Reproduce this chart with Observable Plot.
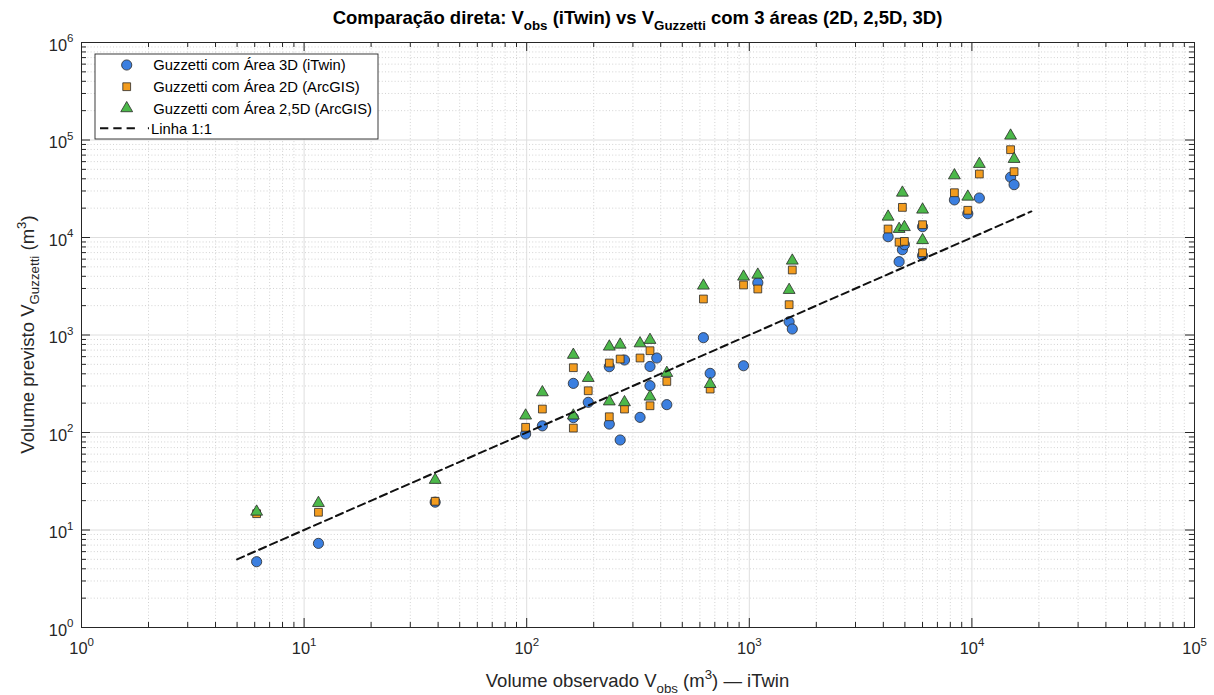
<!DOCTYPE html>
<html><head><meta charset="utf-8">
<script src="https://cdn.jsdelivr.net/npm/d3@7"></script>
<script src="https://cdn.jsdelivr.net/npm/@observablehq/plot@0.6"></script>
<style>
body{margin:0;background:#fff;font-family:"Liberation Sans",Arial,sans-serif}
</style>
</head><body><div id="chart"></div>
<script>
// ---- data ----
const xObs   = [6.12, 11.6, 38.8, 98.9, 117.6, 162, 162, 189, 235, 235, 263, 275, 323, 358, 358, 384, 426, 622, 667, 942, 1092, 1510, 1560, 4203, 4873, 4710, 4975, 6003, 6003, 8345, 9585, 10800, 14920, 15470];
const vArea3D  = [4.73, 7.29, 19.3, 96.5, 117, 319, 142, 204, 473, 122, 83.8, 554, 143, 476, 302, 581, 193, 938, 404, 484, 3437, 1368, 1152, 10190, 7498, 5648, 8440, 12910, 6505, 24300, 17540, 25420, 41500, 34820];
const vArea2D  = [14.7, 15.2, 19.7, 113, 174, 462, 111, 268, 516, 145, 567, 174, 581, 690, 188, null, 334, 2340, 279, 3258, 2964, 2046, 4644, 12220, 20360, 8950, 9120, 13530, 6985, 28790, 19010, 44790, 79560, 47330];
const vArea25D = [15.4, 18.9, 32.6, 149, 258, 625, 149, 362, 759, 208, 795, 204, 820, 889, 233, null, 408, 3205, 314, 3963, 4152, 2894, 5782, 16340, 28790, 12220, 12760, 19280, 9380, 43350, 26200, 56750, 110700, 63840];
const lineEnds = [5, 18500];

const xMajorTicks = [1, 10, 100, 1000, 10000, 100000];
const yMajorTicks = [1, 10, 100, 1000, 10000, 100000, 1000000];
const tickBase = "10";
const seriesNames = ["Guzzetti com Área 3D (iTwin)", "Guzzetti com Área 2D (ArcGIS)", "Guzzetti com Área 2,5D (ArcGIS)", "Linha 1:1"];
const seriesColors = ["#3b7fe0", "#f39c1e", "#4cb84a"];
const seriesSymbols = ["circle", "square", "triangle"];

// ---- layout ----
const W = 1214, H = 695, mL = 81, mR = 20, mT = 42, mB = 68;
const pw = W - mL - mR, ph = H - mT - mB;
const FONT = "Liberation Sans, Arial, Helvetica, sans-serif";

const minorOf = majors => majors.slice(0, -1).flatMap(m => [2,3,4,5,6,7,8,9].map(k => k * m));
const xMinor = minorOf(xMajorTicks), yMinor = minorOf(yMajorTicks);
const expOf = v => String(Math.round(Math.log10(v)));

const rowsOf = ys => xObs.map((x, i) => ({x, y: ys[i]})).filter(d => d.y != null);
const series = [rowsOf(vArea3D), rowsOf(vArea2D), rowsOf(vArea25D)];
const symR = [5.1, 4.4, 4.4];
const lineRows = lineEnds.map(v => ({x: v, y: v}));

const tickCol = "#262626";
const chart = Plot.plot({
  width: W, height: H, marginLeft: mL, marginRight: mR, marginTop: mT, marginBottom: mB,
  style: {fontFamily: FONT, background: "white", color: "#262626", overflow: "visible"},
  x: {type: "log", domain: [1, 1e5], axis: null},
  y: {type: "log", domain: [1, 1e6], axis: null},
  marks: [
    // grid
    Plot.ruleX(xMinor, {x: d => d, stroke: "#c8c8c8", strokeWidth: 0.8, strokeDasharray: "1,2.2"}),
    Plot.ruleY(yMinor, {y: d => d, stroke: "#c8c8c8", strokeWidth: 0.8, strokeDasharray: "1,2.2"}),
    Plot.ruleX(xMajorTicks, {x: d => d, stroke: "#dedede", strokeWidth: 1}),
    Plot.ruleY(yMajorTicks, {y: d => d, stroke: "#dedede", strokeWidth: 1}),
    // inward tick marks (bottom, top, left, right)
    Plot.ruleX(xMajorTicks, {x: d => d, insetTop: ph - 9, stroke: tickCol}),
    Plot.ruleX(xMinor, {x: d => d, insetTop: ph - 5, stroke: tickCol}),
    Plot.ruleX(xMajorTicks, {x: d => d, insetBottom: ph - 9, stroke: tickCol}),
    Plot.ruleX(xMinor, {x: d => d, insetBottom: ph - 5, stroke: tickCol}),
    Plot.ruleY(yMajorTicks, {y: d => d, insetRight: pw - 9, stroke: tickCol}),
    Plot.ruleY(yMinor, {y: d => d, insetRight: pw - 5, stroke: tickCol}),
    Plot.ruleY(yMajorTicks, {y: d => d, insetLeft: pw - 9, stroke: tickCol}),
    Plot.ruleY(yMinor, {y: d => d, insetLeft: pw - 5, stroke: tickCol}),
    Plot.frame({stroke: tickCol, strokeWidth: 1}),
    // data
    ...series.map((rows, i) => Plot.dot(rows, {
      x: "x", y: "y", r: symR[i], symbol: () => seriesSymbols[i],
      fill: seriesColors[i], stroke: "#2a2a2a", strokeWidth: 0.8
    })),
    Plot.line(lineRows, {x: "x", y: "y", stroke: "#111", strokeWidth: 2, strokeDasharray: "7.5,4.5"}),
    // tick labels 10^n
    Plot.text(xMajorTicks, {x: d => d, frameAnchor: "bottom", text: () => tickBase, textAnchor: "end", dx: 6, dy: 26, fontSize: 16.4, fill: "#262626"}),
    Plot.text(xMajorTicks, {x: d => d, frameAnchor: "bottom", text: expOf, textAnchor: "start", dx: 6, dy: 18, fontSize: 11.5, fill: "#262626"}),
    Plot.text(yMajorTicks, {y: d => d, frameAnchor: "left", text: () => tickBase, textAnchor: "end", dx: -14.5, dy: 3, fontSize: 16.4, fill: "#262626"}),
    Plot.text(yMajorTicks, {y: d => d, frameAnchor: "left", text: expOf, textAnchor: "start", dx: -14.5, dy: -4, fontSize: 11.5, fill: "#262626"})
  ]
});
document.getElementById("chart").appendChild(chart);

// ---- title, axis labels, legend (text) ----
const svg = d3.select(chart);
function richText(g, parts, size) {
  // parts: [text, mode] mode: 0 normal, -1 sub, 1 sup
  let cur = 0;
  for (const [t, mode] of parts) {
    const target = mode === -1 ? 0.32 * size : mode === 1 ? -0.42 * size : 0;
    g.append("tspan").attr("dy", target - cur).attr("font-size", mode ? size * 0.72 : size).text(t);
    cur = target;
  }
}
const title = svg.append("text").attr("x", mL + pw / 2).attr("y", 24)
  .attr("text-anchor", "middle").attr("font-weight", "bold").attr("fill", "#000").attr("font-family", FONT);
richText(title, [["Comparação direta: V", 0], ["obs", -1], [" (iTwin) vs V", 0], ["Guzzetti", -1], [" com 3 áreas (2D, 2,5D, 3D)", 0]], 18.5);

const xl = svg.append("text").attr("x", mL + pw / 2).attr("y", 687)
  .attr("text-anchor", "middle").attr("fill", "#262626").attr("font-family", FONT);
richText(xl, [["Volume observado V", 0], ["obs", -1], [" (m", 0], ["3", 1], [") — iTwin", 0]], 18.5);

const yl = svg.append("text").attr("transform", `translate(33.5,${mT + ph / 2}) rotate(-90)`)
  .attr("text-anchor", "middle").attr("fill", "#262626").attr("font-family", FONT);
richText(yl, [["Volume previsto V", 0], ["Guzzetti", -1], [" (m", 0], ["3", 1], [")", 0]], 18.5);

// legend
const lg = svg.append("g").attr("font-family", FONT).attr("text-anchor", "start");
lg.append("rect").attr("x", 95).attr("y", 54).attr("width", 283).attr("height", 85)
  .attr("fill", "white").attr("stroke", "#262626").attr("stroke-width", 0.9);
const rowY = [65, 86.7, 108.3, 128.3];
const d3sym = {circle: d3.symbolCircle, square: d3.symbolSquare, triangle: d3.symbolTriangle};
seriesSymbols.forEach((s, i) => {
  lg.append("path").attr("transform", `translate(126.7,${rowY[i]})`)
    .attr("d", d3.symbol(d3sym[s], Math.PI * symR[i] * symR[i])())
    .attr("fill", seriesColors[i]).attr("stroke", "#2a2a2a").attr("stroke-width", 0.8);
});
lg.append("line").attr("x1", 100).attr("x2", 149).attr("y1", rowY[3]).attr("y2", rowY[3])
  .attr("stroke", "#111").attr("stroke-width", 2).attr("stroke-dasharray", "8.3,5,8.3,5,8.3,13,1.5,100");
seriesNames.forEach((n, i) => {
  lg.append("text").attr("x", i === 3 ? 151 : 153.3).attr("y", rowY[i] + 5.3)
    .attr("text-anchor", "start").attr("font-size", 14.8).attr("fill", "#000").text(n);
});
</script>
</body></html>
